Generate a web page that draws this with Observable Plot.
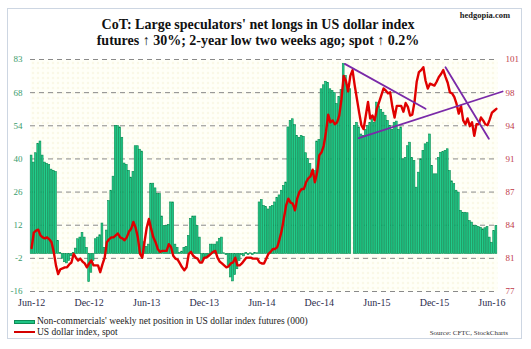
<!DOCTYPE html>
<html><head><meta charset="utf-8">
<script src="https://cdn.jsdelivr.net/npm/d3@7"></script>
<script src="https://cdn.jsdelivr.net/npm/@observablehq/plot@0.6"></script>
<style>
body{margin:0;background:#fff;}
#wrap{position:relative;width:531px;height:349px;font-family:"Liberation Serif","Times New Roman",serif;overflow:hidden;background:#fff;}
#box{position:absolute;left:7px;top:8px;width:515px;height:331px;border:1px solid #cdd6e2;box-sizing:border-box;}
#title{position:absolute;left:0;width:516px;top:17px;text-align:center;font-weight:bold;font-size:14px;line-height:16px;color:#111;}
#brand{position:absolute;right:21px;top:10px;font-weight:bold;font-size:8.5px;color:#222;}
#chart{position:absolute;left:0;top:50px;}
#legend{position:absolute;left:14px;top:316px;font-size:9.5px;line-height:10.5px;color:#222;}
#legend .sw{display:inline-block;width:21px;vertical-align:middle;margin-right:2px;}
#legend .g{height:4px;background:#1ec485;border:0.5px solid #0d8c55;box-sizing:border-box;}
#legend .r{height:2px;background:#d40000;}
#source{position:absolute;right:23px;top:329px;font-size:7px;color:#333;}
</style></head>
<body>
<div id="wrap">
<div id="box"></div>
<div id="title">CoT: Large speculators' net longs in US dollar index<br>futures ↑ 30%; 2-year low two weeks ago; spot ↑ 0.2%</div>
<div id="brand">hedgopia.com</div>
<div id="chart"></div>
<div id="legend">
<div><span class="sw g"></span>Non-commercials' weekly net position in US dollar index futures (000)</div>
<div><span class="sw r"></span>US dollar index, spot</div>
</div>
<div id="source">Source: CFTC, StockCharts</div>
</div>
<script>
// Weekly non-commercial net position (000), Jun-2012 .. Jun-2016
const netPosition = [
42,39,43,47,48,42,39,38.5,38,36,35.5,35,5.5,0.5,-2,-3.5,-4,-3,-1,0.5,
2.3,6.3,7,9,7,2.6,-12,-8,-3,6.3,7,8,13,2.6,10,22.6,27,33,54.6,54.6,
54,49.6,38.6,38,35.5,32.6,35,46,46,44.5,43.7,5,3,4,30,30,28,25.6,25.6,16,
12,12,12.4,22,22,4,2.6,0.5,1,2.6,3,7.7,15,16,16,12,7,-3,-2,-1.5,
-1,4,4,4,5,6.5,7,0.3,-0.5,-5,-10,-11.7,-9,-6.5,-3,-0.5,-1,0.5,-0.5,0.3,
-0.5,0.5,0.3,22,23,20.5,20,19,20,20.5,22,24,25,27,29,30.5,54,56.8,57.5,55,
50.4,49.6,50.4,50,43,40.5,38.4,35.5,35.4,48,48.7,70.3,72,73.5,73,70.3,69.6,68.7,64,67,
70,81,76,70.3,70.3,0,54.6,56,54,51,50.4,53,54.6,56,57.5,56,64.6,63,61.5,60.3,
59,56.8,54.6,53,56,56.5,53,54,40.4,41,46,47.5,41,39.7,28.3,34.7,40.4,44,46.8,47.5,
51,37.6,34,34,41,43.2,43.5,44,44.7,35.4,31,29.8,27,26.2,18.4,17.6,17.6,17.4,14,13.4,
12,12,11.5,11.2,10.5,11,11.5,7,4.8,9.8,12
];
// Weekly US dollar index, spot
const dollarIndex = [
81.5,83.1,83.3,83.4,82.8,82.6,82.5,82.6,82.4,82.1,81.1,79.7,78.8,79.3,79.4,79.5,79.5,79.8,80.0,80.9,
80.5,80.2,80.4,80.1,79.9,79.5,79.9,80.2,79.7,79.7,79.7,79.0,79.8,80.5,82.1,82.4,82.6,82.6,82.8,83.0,
82.6,82.5,82.3,82.6,83.2,83.5,84.2,83.6,82.6,80.9,80.5,82.1,83.6,84.5,83.5,82.6,82.1,81.4,81.1,81.2,
81.2,81.2,81.9,81.6,80.7,80.4,80.3,79.9,79.5,79.2,79.5,80.9,81.1,80.7,80.5,80.4,80.0,80.0,80.5,80.5,
80.7,80.9,81.1,81.2,80.5,80.1,79.9,79.7,79.5,79.6,79.9,80.0,80.5,79.7,79.7,79.9,80.2,80.5,80.5,80.5,
80.4,80.4,80.4,80.0,79.9,79.9,80.4,80.9,81.1,81.4,81.4,81.6,82.4,83.3,84.6,85.9,86.6,86.2,86.1,85.4,
86.6,87.3,87.6,87.6,88.3,88.7,88.9,89.6,88.3,89.3,91.1,91.4,92.1,93.5,95.3,94.5,94.7,94.3,94.5,95.2,
96.9,99.3,98.8,97.7,99.3,99.9,98.3,96.9,95.5,94.2,93.8,95.2,96.6,94.9,95.2,94.7,95.9,96.6,97.3,98.0,
97.8,97.5,97.6,96.1,95.0,96.2,96.2,96.2,95.6,96.5,96.1,95.2,95.3,96.6,98.7,99.7,99.9,100.2,98.8,98.0,
98.5,98.4,98.3,98.7,99.2,99.5,99.9,99.2,98.6,97.6,97.5,97.1,96.4,95.4,96.2,94.7,94.3,94.9,94.1,94.5,
93.1,94.3,94.3,95.0,94.7,94.3,94.2,94.8,95.5,95.7,95.9
];
// Trend lines drawn on the dollar index (week index, index value)
const trendDown1 = [[142.0,100.55],[178.5,95.9]];
const trendUp    = [[148.3,92.86],[213.3,97.69]];
const trendDown2 = [[187.5,100.2],[207.1,92.8]];
// Axis labels
const leftLabels  = ["-16","-2","12","26","40","54","68","83"];
const rightLabels = ["77","81","84","87","91","94","98","101"];
const xLabels = ["Jun-12","Dec-12","Jun-13","Dec-13","Jun-14","Dec-14","Jun-15","Dec-15","Jun-16"];
const xLabelWeeks = [0,26,52,78,104,130,156,182,208];

const leftMin=-16, leftMax=83, rightMin=77, rightMax=101;
const toLeft = v => leftMin + (v-rightMin)*(leftMax-leftMin)/(rightMax-rightMin);
const n = netPosition.length;
const rows = netPosition.map((v,i)=>({i, net:v, dxy:dollarIndex[i]}));
const tickPos = d3.range(leftLabels.length).map(k => leftMin + k*(leftMax-leftMin)/(leftLabels.length-1));
const leftMap = new Map(tickPos.map((t,k)=>[t,leftLabels[k]]));
const rightMap = new Map(tickPos.map((t,k)=>[t,rightLabels[k]]));
const xPos = xLabelWeeks.map(w=>w+0.5);
const xMap = new Map(xPos.map((p,k)=>[p,xLabels[k]]));
const trends = [trendDown1,trendUp,trendDown2].flatMap((seg,s)=>seg.map(([i,v])=>({s,i,v})));

const svg = Plot.plot({
  width:531, height:260, marginTop:9, marginBottom:19, marginLeft:30, marginRight:34,
  style:{fontFamily:"'Liberation Serif','Times New Roman',serif", background:"transparent", overflow:"visible"},
  x:{domain:[0,n], axis:null, label:null},
  y:{domain:[leftMin,leftMax], axis:null, label:null},
  marks:[
    Plot.frame({fill:"url(#dots)", stroke:null}),
    Plot.ruleY(tickPos, {stroke:"#8a8a8a", strokeWidth:1, strokeDasharray:"5,4"}),
    Plot.rect(rows, {x1:"i", x2:d=>d.i+1, y1:0, y2:"net", fill:"#22cc8c", stroke:"#078a50", strokeWidth:0.6, insetLeft:0.2, insetRight:0.2}),
    Plot.line(rows, {x:d=>d.i+0.5, y:d=>toLeft(d.dxy), stroke:"#e00000", strokeWidth:2.4, strokeLinejoin:"round"}),
    Plot.line(trends, {x:"i", y:d=>toLeft(d.v), z:"s", stroke:"#7a2aa8", strokeWidth:1.8}),
    Plot.axisY(tickPos, {anchor:"left", label:null, tickSize:0, tickPadding:8, tickFormat:d=>leftMap.get(d), fill:"#3a9c6c", fontSize:9}),
    Plot.axisY(tickPos, {anchor:"right", label:null, tickSize:0, tickPadding:8, tickFormat:d=>rightMap.get(d), fill:"#c03a4a", fontSize:9}),
    Plot.axisX(xPos, {label:null, tickSize:0, tickPadding:7, tickFormat:d=>xMap.get(d), fill:"#2c2c4c", fontSize:10})
  ]
});
const defs = d3.select(svg).insert("defs", ":first-child");
const p = defs.append("pattern").attr("id","dots").attr("width",5).attr("height",5).attr("patternUnits","userSpaceOnUse");
p.append("rect").attr("width",5).attr("height",5).attr("fill","#fffff7");
p.append("circle").attr("cx",2.5).attr("cy",2.5).attr("r",0.7).attr("fill","#efe8bf");
document.getElementById("chart").appendChild(svg);
</script>
</body></html>
